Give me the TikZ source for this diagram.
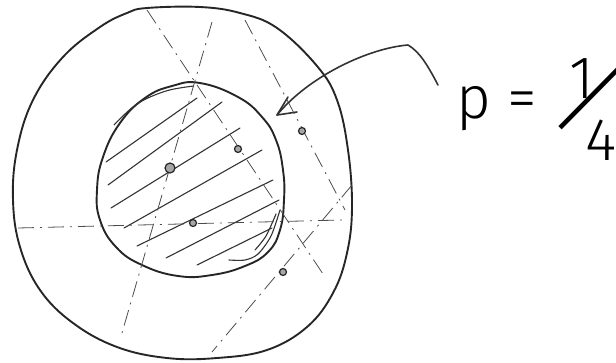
\documentclass[tikz,border=0pt]{standalone}
\usepackage{fontspec}
\newfontfamily\hand{Fira Sans Light}
\begin{document}
\begin{tikzpicture}[x=1pt,y=-1pt,
  rim/.style={line width=1.9pt,draw=black!85,line join=round},
  hatchline/.style={line width=1.1pt,draw=black!80,line cap=round},
  chord/.style={line width=0.8pt,draw=black!70,dash pattern=on 16pt off 6pt on 2pt off 6pt},
  pt/.style={circle,draw=black!85,fill=black!35,line width=1.2pt,inner sep=0pt,minimum size=7pt},
  lbl/.style={font=\hand\fontsize{60}{60}\selectfont,inner sep=0pt}]
\useasboundingbox (0,0) rectangle (616,362);
% outer circle
\draw[rim] plot[smooth cycle,tension=0.65] coordinates {
 (147,8) (200,7) (240,13) (277,28) (317,66) (337,100) (348,150) (352,207)
 (347,253) (333,293) (307,327) (267,350) (217,358) (167,358) (117,347)
 (73,323) (40,290) (20,247) (13,200) (17,150) (33,100) (63,57) (100,27) (127,13)};
% inner circle
\draw[rim] plot[smooth cycle,tension=0.75] coordinates {
 (200,83) (238,97) (262,117) (276,140) (283,170) (284,200) (280,230) (268,252)
 (245,266) (212,275) (178,276) (142,265) (116,247) (100,220) (97,190)
 (103,157) (120,123) (145,98) (172,86)};
\draw[line width=1.1pt,black!80] plot[smooth,tension=0.6] coordinates {(114,125) (137,104) (166,91) (194,86)};
% hatching
\draw[hatchline] (106,162) -- (197,98);
\draw[hatchline] (108,185) -- (222,102);
\draw[hatchline] (111,208) -- (240,128);
\draw[hatchline] (124,228) -- (262,150);
\draw[hatchline] (137,246) -- (273,180);
\draw[hatchline] (166,258) -- (279,200);
\draw[hatchline] (197,265) -- (272,228);
\draw[hatchline] plot[smooth] coordinates {(229,260) (245,260) (258,254) (271,236) (280,210)};
\draw[hatchline] plot[smooth] coordinates {(255,250) (266,236) (276,214)};
% chords
\coordinate (h1) at (18,228); \coordinate (h2) at (342,220);
\coordinate (a1) at (147,10); \coordinate (a2) at (325,277);
\coordinate (b1) at (212,22); \coordinate (b2) at (122,333);
\coordinate (c1) at (352,185); \coordinate (c2) at (212,352);
\coordinate (d1) at (245,20); \coordinate (d2) at (345,210);
\draw[chord] (h1) -- (h2);
\draw[chord] (a1) -- (a2);
\draw[chord] (b1) -- (b2);
\draw[chord] (c1) -- (c2);
\draw[chord] (d1) -- (d2);
% midpoints
\node[pt,minimum width=8pt,minimum height=10pt] (m1) at (170,168) {};
\node[pt] (m2) at (238,149) {};
\node[pt] (m3) at (193,223) {};
\node[pt] (m4) at (302,131) {};
\node[pt] (m5) at (283,272) {};
% arrow
\coordinate (s) at (438,85);
\coordinate (k) at (408,45);
\coordinate (tip) at (277,115);
\draw[line width=1.6pt,black!80,line cap=round,line join=round]
  (s) .. controls (428,66) and (420,52) .. (k)
  .. controls (370,48) and (310,75) .. (tip);
\draw[line width=1.6pt,black!80,line cap=round,line join=round]
  (288,97) -- (tip) -- (297,112);
% label
\node[lbl,anchor=base west] (p) at (456,118) {p =};
\node[lbl,anchor=base] (one) at (582,98) {1};
\node[lbl,font=\hand\fontsize{90}{90}\selectfont,rotate=-30] (sl) at (590,99) {/};
\node[lbl,anchor=base] (four) at (601,160) {4};
\end{tikzpicture}
\end{document}
